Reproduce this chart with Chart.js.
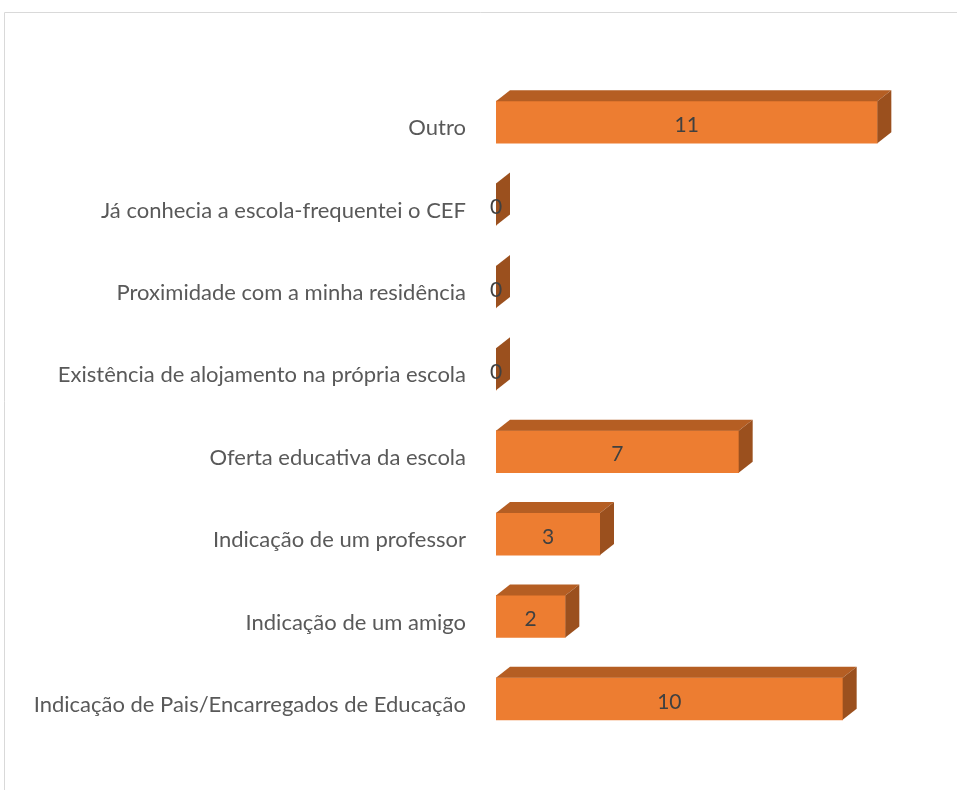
<!DOCTYPE html>
<html>
<head>
<meta charset="utf-8">
<script src="https://cdn.jsdelivr.net/npm/chart.js@4/dist/chart.umd.min.js"></script>
<style>
  html, body { margin: 0; padding: 0; background: #fff; }
  #wrap { width: 957px; height: 790px; }
</style>
</head>
<body>
<div id="wrap"><canvas id="chart" width="957" height="790"></canvas></div>
<script>
const categories = [
    'Outro',
    'Já conhecia a escola-frequentei o CEF',
    'Proximidade com a minha residência',
    'Existência de alojamento na própria escola',
    'Oferta educativa da escola',
    'Indicação de um professor',
    'Indicação de um amigo',
    'Indicação de Pais/Encarregados de Educação'
];
const values = [11, 0, 0, 0, 7, 3, 2, 10];

const FONT = 'Lato, "Liberation Sans", sans-serif';
const depthX = 14, depthY = 11;

// frame + 3d faces + value labels
const boxPlugin = {
    id: 'box3d',
    beforeDraw(chart) {
        const c = chart.ctx;
        c.save();
        c.strokeStyle = '#d9d9d9';
        c.lineWidth = 1;
        c.beginPath();
        c.moveTo(4.5, 790);
        c.lineTo(4.5, 12.5);
        c.lineTo(957, 12.5);
        c.stroke();
        c.restore();
    },
    afterDatasetsDraw(chart) {
        const c = chart.ctx;
        const meta = chart.getDatasetMeta(0);
        c.save();
        meta.data.forEach((bar, i) => {
            const p = bar.getProps(['x', 'y', 'base', 'height'], true);
            const top = p.y - p.height / 2, bot = p.y + p.height / 2;
            // top face
            c.fillStyle = '#b55e23';
            c.beginPath();
            c.moveTo(p.base, top);
            c.lineTo(p.x, top);
            c.lineTo(p.x + depthX, top - depthY);
            c.lineTo(p.base + depthX, top - depthY);
            c.closePath();
            c.fill();
            // side face
            c.fillStyle = '#9b501e';
            c.beginPath();
            c.moveTo(p.x, top);
            c.lineTo(p.x + depthX, top - depthY);
            c.lineTo(p.x + depthX, bot - depthY);
            c.lineTo(p.x, bot);
            c.closePath();
            c.fill();
            // value
            c.fillStyle = '#404040';
            c.font = '21px ' + FONT;
            c.textAlign = 'center';
            c.textBaseline = 'middle';
            c.fillText(String(values[i]), (p.base + p.x) / 2, p.y + 3);
        });
        c.restore();
    }
};

new Chart(document.getElementById('chart'), {
    type: 'bar',
    data: {
        labels: categories,
        datasets: [{
            data: values,
            backgroundColor: '#ed7d31',
            borderWidth: 0,
            barThickness: 42
        }]
    },
    options: {
        indexAxis: 'y',
        responsive: false,
        animation: false,
        layout: { padding: { top: 81, bottom: 50, left: 0, right: 45 } },
        plugins: { legend: { display: false }, tooltip: { enabled: false } },
        scales: {
            x: { display: false, min: 0, max: 12 },
            y: {
                grid: { display: false, drawTicks: false },
                border: { display: false },
                ticks: {
                    color: '#595959',
                    font: { family: FONT, size: 22 },
                    padding: 30,
                    labelOffset: 6
                },
                afterFit(scale) { scale.width = 496; }
            }
        }
    },
    plugins: [boxPlugin]
});
</script>
</body>
</html>
